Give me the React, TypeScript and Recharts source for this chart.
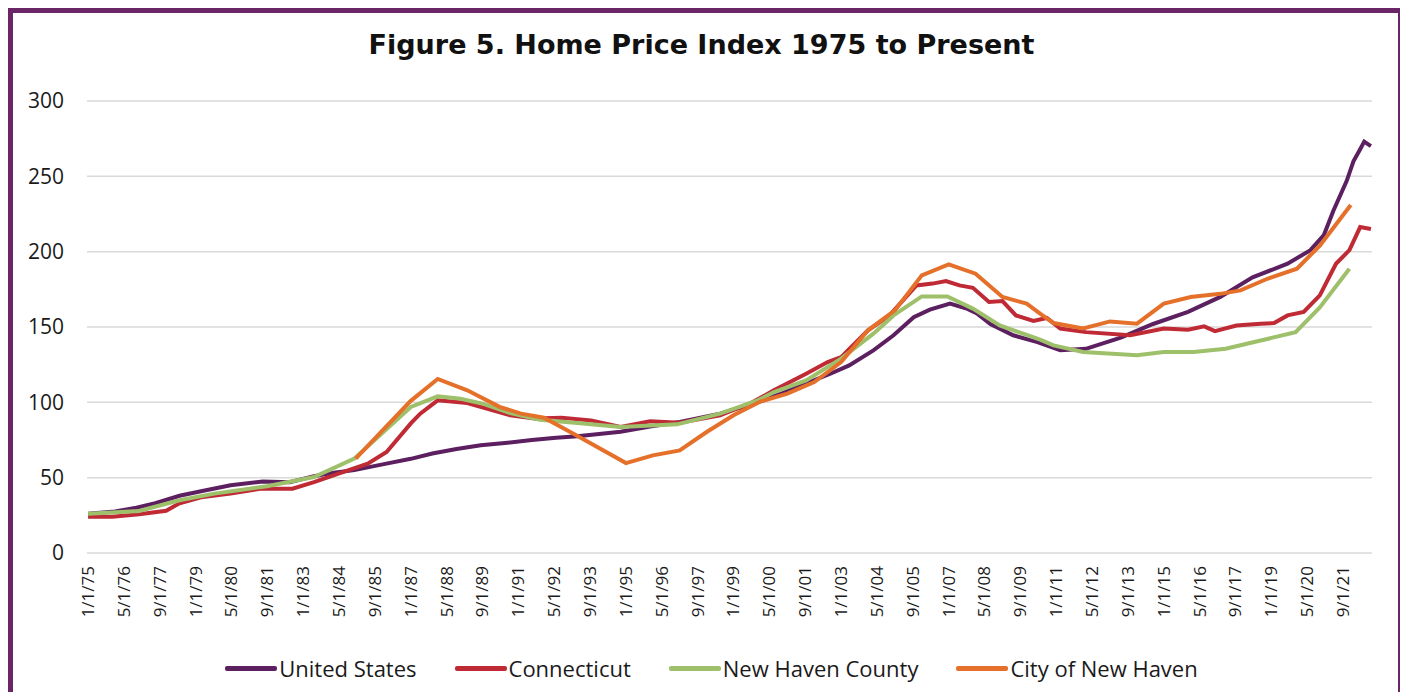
import React from "react";
import { LineChart, Line, XAxis, YAxis, CartesianGrid, Legend } from "recharts";

// x axis labels (every 16 months), y axis ticks
const tickLabels = [
  "1/1/75", "5/1/76", "9/1/77", "1/1/79", "5/1/80", "9/1/81", "1/1/83", "5/1/84",
  "9/1/85", "1/1/87", "5/1/88", "9/1/89", "1/1/91", "5/1/92", "9/1/93", "1/1/95",
  "5/1/96", "9/1/97", "1/1/99", "5/1/00", "9/1/01", "1/1/03", "5/1/04", "9/1/05",
  "1/1/07", "5/1/08", "9/1/09", "1/1/11", "5/1/12", "9/1/13", "1/1/15", "5/1/16",
  "9/1/17", "1/1/19", "5/1/20", "9/1/21",
];
const yTicks = [0, 50, 100, 150, 200, 250, 300];

// United States
const usYears = [
  1975.0, 1976.0, 1976.8, 1977.5, 1978.4, 1979.2, 1980.3, 1981.5, 1982.5, 1983.4,
  1984.2, 1984.9, 1986.0, 1987.0, 1987.8, 1988.7, 1989.6, 1990.5, 1991.5, 1992.4,
  1993.2, 1994.0, 1994.8, 1995.9, 1997.0, 1998.5, 1999.9, 2000.8, 2001.7, 2002.6,
  2003.3, 2004.2, 2004.95, 2005.7, 2006.3, 2007.05, 2007.7, 2008.05, 2008.55, 2009.4,
  2010.3, 2011.15, 2012.1, 2013.4, 2014.6, 2015.9, 2017.1, 2018.3, 2019.6, 2020.45,
  2020.95, 2021.3, 2021.8, 2022.05, 2022.3, 2022.45, 2022.7,
];
const usIndex = [
  26, 27.5, 30, 33, 38, 41, 45, 47.5, 47, 51,
  53.5, 55, 59, 62.5, 66, 69, 71.5, 73, 75, 76.5,
  77.5, 79, 80.5, 84, 87, 92.5, 100, 106, 112.5, 119,
  124.5, 134.5, 144.5, 156.5, 161.5, 165.5, 162, 159, 152, 144.5,
  140, 134.5, 135.5, 143, 152, 160, 170, 183, 192, 201,
  211, 227, 247, 260, 268, 273, 270,
];

// Connecticut
const ctYears = [
  1975.0, 1975.9, 1976.9, 1977.9, 1978.4, 1979.2, 1980.3, 1981.4, 1982.6, 1983.4,
  1984.5, 1985.4, 1986.1, 1987.0, 1987.35, 1988.0, 1989.1, 1990.7, 1991.6, 1992.6,
  1993.7, 1994.8, 1995.9, 1997.0, 1998.5, 1999.7, 2000.5, 2001.7, 2002.5, 2003.0,
  2004.0, 2004.8, 2005.8, 2006.4, 2006.9, 2007.4, 2007.9, 2008.5, 2009.0, 2009.5,
  2010.15, 2010.65, 2011.15, 2012.1, 2013.75, 2015.0, 2015.9, 2016.5, 2016.9, 2017.7,
  2018.6, 2019.1, 2019.6, 2020.2, 2020.8, 2021.4, 2021.9, 2022.3, 2022.7,
];
const ctIndex = [
  24, 24, 25.7, 28, 33, 37, 39.5, 42.7, 42.7, 47,
  53.8, 59.3, 67, 86, 92.5, 101.3, 99.5, 91.4, 89.2, 89.8,
  88, 83.6, 87.4, 86.5, 91.4, 100, 108, 119, 126.7, 130,
  147.8, 157.7, 177.6, 178.8, 180.5, 177.6, 176, 166.6, 167.2, 157.7,
  154, 156, 149, 146.6, 144.5, 149, 148.2, 150.4, 147.3, 151,
  152.2, 152.6, 157.7, 160, 171, 192, 201, 216.3, 215,
];

// New Haven County
const countyYears = [
  1975.0, 1976.9, 1978.4, 1979.7, 1981.65, 1983.4, 1984.9, 1987.0, 1988.0, 1988.85,
  1989.7, 1990.7, 1991.8, 1993.2, 1994.8, 1996.9, 1998.5, 1999.9, 2000.5, 2001.7,
  2003.0, 2004.2, 2004.95, 2006.0, 2006.95, 2007.9, 2008.9, 2010.4, 2010.9, 2012.0,
  2014.0, 2015.0, 2016.1, 2017.3, 2018.6, 2019.9, 2020.8, 2021.9,
];
const countyIndex = [
  26, 27.9, 35, 39.4, 44.3, 50.4, 62.6, 96.9, 104, 102.4,
  99, 92.9, 88.5, 86.3, 83.6, 85.4, 92.5, 101.3, 106.8, 114.6,
  129, 145.6, 157.7, 170.3, 170.3, 162.2, 151, 141.6, 137.8, 133.4,
  131.2, 133.4, 133.4, 135.6, 141, 146.6, 163, 188.7,
];

// City of New Haven
const cityYears = [
  1984.95, 1987.0, 1988.0, 1989.1, 1990.3, 1991.1, 1991.95, 1993.05, 1995.0, 1996.0,
  1997.0, 1998.0, 1999.0, 2000.0, 2001.0, 2002.0, 2003.0, 2004.0, 2005.0, 2006.0,
  2007.0, 2008.0, 2009.0, 2009.9, 2010.4, 2010.9, 2012.0, 2013.0, 2014.0, 2015.0,
  2016.0, 2017.1, 2017.85, 2018.85, 2019.95, 2020.8, 2021.95,
];
const cityIndex = [
  62.6, 101, 115.5, 108, 97, 92.5, 89.8, 79.2, 59.7, 64.8,
  68.1, 80.3, 91.4, 100.5, 105.8, 113.5, 126.7, 147.8, 161, 184.3,
  191.6, 185.4, 169.9, 165.5, 158.9, 152.6, 149, 153.7, 152.2, 165.5,
  169.9, 172, 174.3, 182, 188.7, 204, 231,
];

const series = [
  { key: "us", name: "United States", color: "#5c1f60", years: usYears, values: usIndex },
  { key: "ct", name: "Connecticut", color: "#bf2a35", years: ctYears, values: ctIndex },
  { key: "county", name: "New Haven County", color: "#9ec06b", years: countyYears, values: countyIndex },
  { key: "city", name: "City of New Haven", color: "#e4702a", years: cityYears, values: cityIndex },
];

const FONT = "'Open Sans', 'Noto Sans', sans-serif";

// "5/1/76" -> 1976.333
const toYear = (label: string) => {
  const [m, , yy] = label.split("/").map(Number);
  return (yy > 50 ? 1900 : 2000) + yy + (m - 1) / 12;
};
const tickValues = tickLabels.map(toYear);
const labelFor = (v: number) => {
  const i = tickValues.findIndex((t) => Math.abs(t - v) < 1e-6);
  return i >= 0 ? tickLabels[i] : "";
};

const DateTick = ({ x, y, payload }: any) => (
  <text
    x={x}
    y={y}
    transform={`rotate(-90, ${x}, ${y})`}
    textAnchor="end"
    dy="0.35em"
    fontSize={17}
    fill="#1a1a1a"
    fontFamily={FONT}
  >
    {labelFor(payload.value)}
  </text>
);

const LegendContent = () => (
  <div
    style={{
      display: "flex",
      justifyContent: "center",
      gap: 38,
      paddingLeft: 12,
      fontFamily: FONT,
      fontSize: 22,
      color: "#1a1a1a",
      lineHeight: "28px",
    }}
  >
    {series.map((s) => (
      <div key={s.key} style={{ display: "flex", alignItems: "center" }}>
        <span
          style={{
            display: "inline-block",
            width: 52,
            height: 5,
            borderRadius: 2,
            background: s.color,
            marginRight: 2,
          }}
        />
        <span>{s.name}</span>
      </div>
    ))}
  </div>
);

export default function App() {
  return (
    <div
      style={{
        position: "relative",
        width: 1395,
        height: 692,
        marginBottom: -8,
        boxSizing: "border-box",
        border: "5px solid #6a2567",
        borderBottom: "none",
        background: "#fff",
      }}
    >
      <div
        style={{
          position: "absolute",
          top: 16,
          left: 0,
          width: 1385,
          paddingRight: 8,
          boxSizing: "border-box",
          textAlign: "center",
          fontFamily: "'DejaVu Sans', sans-serif",
          fontWeight: 700,
          fontSize: 27,
          lineHeight: "32px",
          color: "#111",
        }}
      >
        Figure 5. Home Price Index 1975 to Present
      </div>
      <LineChart
        width={1385}
        height={687}
        margin={{ top: 88, right: 26, left: 0, bottom: 77 }}
      >
        <CartesianGrid vertical={false} stroke="#d9d9d9" strokeWidth={1.5} />
        <XAxis
          dataKey="t"
          type="number"
          domain={[1974.96, 2022.74]}
          allowDataOverflow
          ticks={tickValues}
          interval={0}
          height={70}
          axisLine={false}
          tickLine={false}
          tickSize={0}
          tickMargin={13}
          tick={<DateTick />}
        />
        <YAxis
          domain={[0, 300]}
          ticks={yTicks}
          width={74}
          axisLine={false}
          tickLine={false}
          tickSize={0}
          tickMargin={23}
          tick={{ fontSize: 21, fill: "#1a1a1a", fontFamily: FONT }}
        />
        <Legend
          layout="horizontal"
          verticalAlign="middle"
          align="center"
          content={<LegendContent />}
          wrapperStyle={{ top: 641, left: 0, width: 1385 }}
        />
        {series.map((s) => (
          <Line
            key={s.key}
            data={s.years.map((t, i) => ({ t, v: s.values[i] }))}
            dataKey="v"
            name={s.name}
            type="linear"
            stroke={s.color}
            strokeWidth={4}
            dot={false}
            isAnimationActive={false}
          />
        ))}
      </LineChart>
    </div>
  );
}
